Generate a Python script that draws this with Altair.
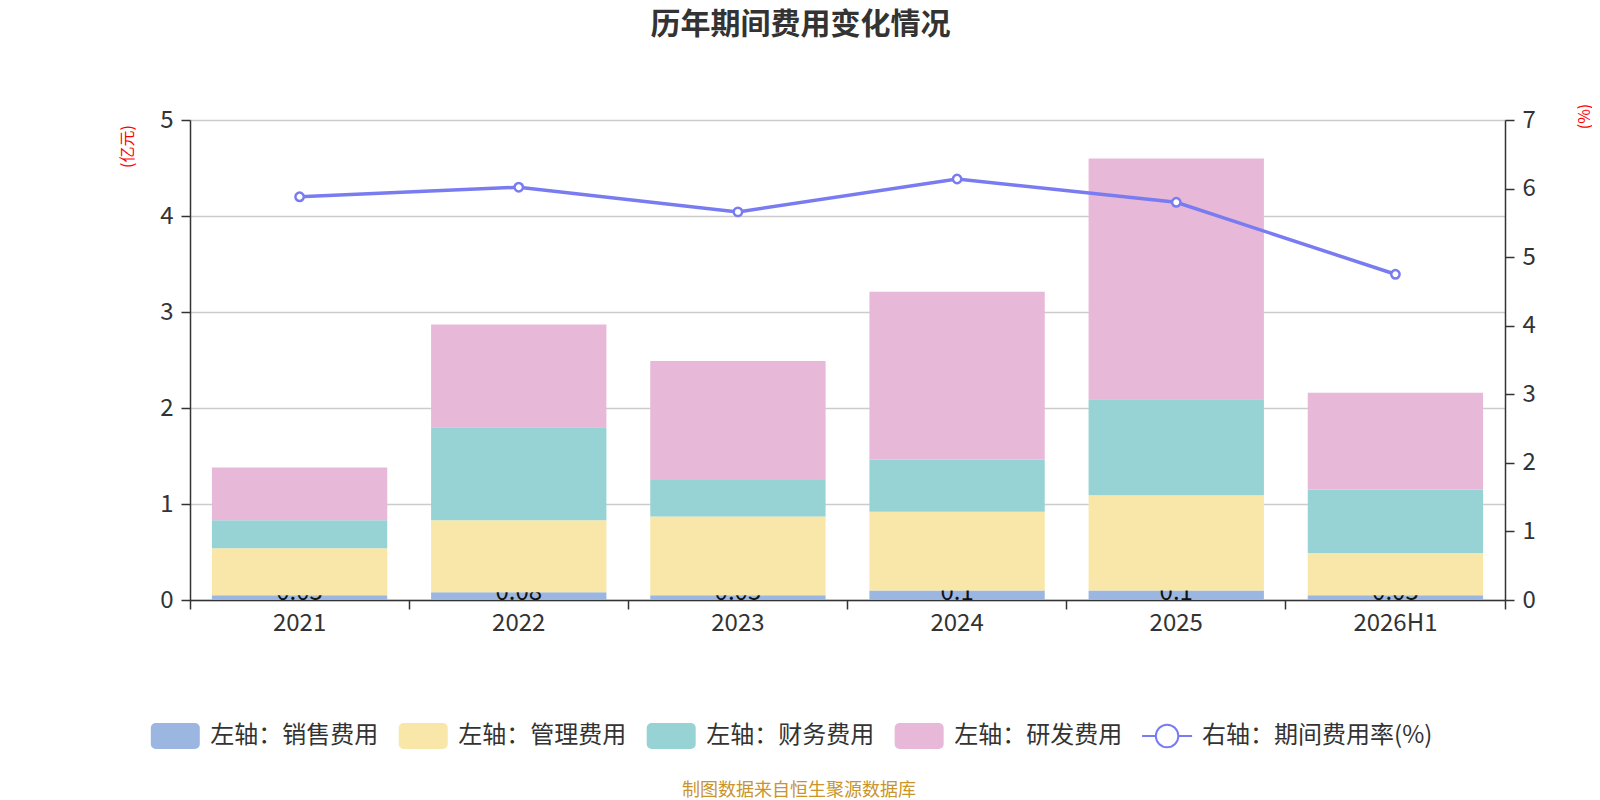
import altair as alt
import pandas as pd

FONT = "Noto Sans CJK SC"

years = ["2021", "2022", "2023", "2024", "2025", "2026H1"]
sales = [0.05, 0.08, 0.05, 0.10, 0.10, 0.05]
admin = [0.49, 0.75, 0.82, 0.82, 0.99, 0.44]
finance = [0.29, 0.97, 0.38, 0.54, 1.00, 0.66]
rnd = [0.55, 1.07, 1.24, 1.75, 2.51, 1.01]
rate = [5.88, 6.02, 5.66, 6.14, 5.80, 4.75]

series_names = ["左轴：销售费用", "左轴：管理费用", "左轴：财务费用", "左轴：研发费用"]
series_colors = ["#9bb7e1", "#f8e7a8", "#97d3d4", "#e7b8d8"]
line_name = "右轴：期间费用率(%)"
line_color = "#787cf0"
title_text = "历年期间费用变化情况"
footer_text = "制图数据来自恒生聚源数据库"
left_unit = "(亿元)"
right_unit = "(%)"

rows = []
for i, yr in enumerate(years):
    for j, (name, vals) in enumerate(zip(series_names, [sales, admin, finance, rnd])):
        rows.append({"year": yr, "series": name, "value": vals[i], "order": j})
bars_df = pd.DataFrame(rows)
rate_df = pd.DataFrame({"year": years, "rate": rate})

x_axis = alt.Axis(title=None, bandPosition=1, tickExtra=True, labelFontSize=24, labelColor="#333",
                  labelFont=FONT, tickSize=9, tickColor="#333", tickWidth=1.5, domainColor="#333",
                  domainWidth=1.5, labelPadding=2, labelAngle=0, grid=False)
x_enc = alt.X("year:N", sort=years, scale=alt.Scale(domain=years, paddingInner=0, paddingOuter=0), axis=x_axis)

y_axis = alt.Axis(title=left_unit, titleColor="red", titleFontSize=16, titleFont=FONT, titleFontWeight="normal",
                  titleAngle=270, titleX=-63, titleY=26, titleAlign="center", titleBaseline="middle",
                  values=[0, 1, 2, 3, 4, 5], format="d", labelFontSize=24, labelColor="#333", labelFont=FONT,
                  tickSize=9, tickColor="#333", tickWidth=1.5, domainColor="#333", domainWidth=1.5,
                  grid=True, gridColor="#cccccc", gridWidth=1.5, labelPadding=8)
y_scale = alt.Scale(domain=[0, 5], nice=False)

y2_axis = alt.Axis(title=right_unit, orient="right", titleColor="red", titleFontSize=16, titleFont=FONT,
                   titleFontWeight="normal", titleAngle=270, titleX=79, titleY=-4, titleAlign="center",
                   titleBaseline="middle", values=list(range(8)), format="d", labelFontSize=24,
                   labelColor="#333", labelFont=FONT, tickSize=9, tickColor="#333", tickWidth=1.5,
                   domainColor="#333", domainWidth=1.5, grid=False, labelPadding=8)

color_enc = alt.Color("series:N", scale=alt.Scale(domain=series_names, range=series_colors), legend=None)

base = alt.Chart(bars_df).transform_stack(
    stack="value", groupby=["year"], as_=["v0", "v1"], sort=[alt.SortField("order", order="ascending")]
)

sales_bar = base.transform_filter(alt.datum.series == series_names[0]).mark_bar(
    width=alt.RelativeBandSize(0.8)
).encode(x=x_enc, y=alt.Y("v0:Q", scale=y_scale, axis=y_axis), y2="v1:Q", color=color_enc)

sales_text = base.transform_filter(alt.datum.series == series_names[0]).mark_text(
    fontSize=24, baseline="alphabetic", color="#111", font=FONT
).encode(x=x_enc, y=alt.Y("v0:Q", scale=y_scale, axis=y_axis), text=alt.Text("value:Q", format=""))

other_bars = base.transform_filter(alt.datum.series != series_names[0]).mark_bar(
    width=alt.RelativeBandSize(0.8)
).encode(x=x_enc, y=alt.Y("v0:Q", scale=y_scale, axis=y_axis), y2="v1:Q", color=color_enc)

line = alt.Chart(rate_df).mark_line(
    color=line_color, strokeWidth=3.5,
    point=alt.OverlayMarkDef(filled=True, fill="white", stroke=line_color, strokeWidth=2.5, size=70, opacity=1)
).encode(x=x_enc, y=alt.Y("rate:Q", scale=alt.Scale(domain=[0, 7], nice=False), axis=y2_axis))

main = alt.layer(alt.layer(sales_bar, sales_text, other_bars), line).resolve_scale(
    y="independent"
).properties(width=1315, height=480)

# legend panel
ROUNDED = ("M-0.8,-0.53 L0.8,-0.53 A0.2,0.2 0 0 1 1,-0.33 L1,0.33 A0.2,0.2 0 0 1 0.8,0.53 "
           "L-0.8,0.53 A0.2,0.2 0 0 1 -1,0.33 L-1,-0.33 A0.2,0.2 0 0 1 -0.8,-0.53 Z")
LINESYM = ("M-1,0 L-0.45,0 M0.45,0 L1,0 M-0.45,0 A0.45,0.45 0 1 1 0.45,0 "
           "A0.45,0.45 0 1 1 -0.45,0 Z")

leg_rect_df = pd.DataFrame({"idx": [0, 1, 2, 3], "name": series_names, "color": series_colors})
leg_line_df = pd.DataFrame({"idx": [4], "name": [line_name]})
leg_all_df = pd.DataFrame({"idx": [0, 1, 2, 3, 4], "name": series_names + [line_name]})

leg_x = alt.X("idx:Q", scale=alt.Scale(domain=[0, 4], range=[-14.7, 977.1]), axis=None)
leg_y = alt.value(20)

rect_sym = alt.Chart(leg_rect_df).mark_point(shape=ROUNDED, size=2401, filled=True, opacity=1, strokeWidth=0).encode(
    x=leg_x, y=leg_y, color=alt.Color("color:N", scale=None, legend=None))
line_sym = alt.Chart(leg_line_df).mark_point(shape=LINESYM, size=2500, filled=True, fill="white",
                                             stroke=line_color, strokeWidth=2, opacity=1).encode(x=leg_x, y=leg_y)
leg_text = alt.Chart(leg_all_df).mark_text(align="left", baseline="middle", dx=35, fontSize=24, color="#333",
                                           font=FONT).encode(x=leg_x, y=leg_y, text="name:N")
footer = alt.Chart(pd.DataFrame({"t": [footer_text]})).mark_text(
    fontSize=18, color="#c9952b", font=FONT, baseline="middle"
).encode(x=alt.value(609), y=alt.value(75), text="t:N")

legend_panel = alt.layer(rect_sym, line_sym, leg_text, footer).properties(width=1315, height=90)

chart = alt.vconcat(main, legend_panel, spacing=81).resolve_scale(
    x="independent", y="independent", color="independent"
).properties(
    title=alt.TitleParams(title_text, fontSize=30, fontWeight="bold", color="#333", font=FONT,
                          anchor="middle", offset=63, dx=-55),
    padding={"left": 111, "top": 2, "right": 0, "bottom": 0},
).configure_view(stroke=None)

chart.save("out.html", embed_options={"renderer": "svg", "actions": False})
